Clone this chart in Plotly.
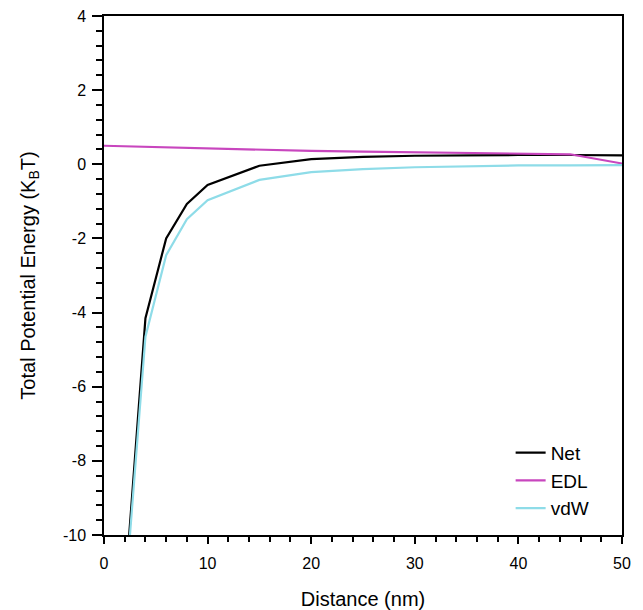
import plotly.graph_objects as go

# Data
distance = [2, 4, 6, 8, 10, 15, 20, 25, 30, 35, 40, 45, 50]
net = [-11.6, -4.15, -2.0, -1.07, -0.56, -0.04, 0.14, 0.20, 0.23, 0.25, 0.25, 0.25, 0.24]
vdw = [-11.8, -4.65, -2.45, -1.48, -0.97, -0.42, -0.21, -0.13, -0.08, -0.05, -0.03, -0.03, -0.02]
edl_x = [0, 5, 10, 15, 20, 25, 30, 35, 40, 45, 50]
edl = [0.50, 0.46, 0.42, 0.39, 0.36, 0.34, 0.32, 0.30, 0.28, 0.27, 0.02]

y_ticks = [-10, -8, -6, -4, -2, 0, 2, 4]
y_ticktext = ["-10", "-8", "-6", "-4", "-2", "0", "2", "4"]
x_ticks = [0, 10, 20, 30, 40, 50]

fig = go.Figure()
fig.add_trace(go.Scatter(x=distance, y=net, mode="lines", name="Net",
                         line=dict(color="#000000", width=2.2)))
fig.add_trace(go.Scatter(x=edl_x, y=edl, mode="lines", name="EDL",
                         line=dict(color="#C846BE", width=2.2)))
fig.add_trace(go.Scatter(x=distance, y=vdw, mode="lines", name="vdW",
                         line=dict(color="#8EDCE8", width=2.2)))

axis_common = dict(showline=True, linecolor="black", linewidth=1.5, mirror=True,
                   showgrid=False, zeroline=False, ticks="outside", tickcolor="black",
                   tickwidth=1.5, tickfont=dict(size=16, color="black"), automargin=False)

fig.update_xaxes(range=[0, 50], tickmode="array", tickvals=x_ticks, ticklen=7,
                 ticklabelstandoff=6,
                 minor=dict(dtick=2, tick0=0, ticks="outside", ticklen=5, tickcolor="black", tickwidth=1.5),
                 title=dict(text="Distance (nm)", font=dict(size=20, color="black"), standoff=22),
                 **axis_common)
fig.update_yaxes(range=[-10, 4], tickmode="array", tickvals=y_ticks, ticktext=y_ticktext, ticklen=10,
                 ticklabelstandoff=3,
                 minor=dict(dtick=0.4, tick0=0, ticks="outside", ticklen=6, tickcolor="black", tickwidth=1.5),
                 title=dict(text="Total Potential Energy (K<sub>B</sub>T)", font=dict(size=20, color="black"), standoff=22),
                 **axis_common)

fig.update_layout(
    width=643, height=610,
    margin=dict(l=104, r=21, t=16, b=75),
    paper_bgcolor="white", plot_bgcolor="white",
    font=dict(family="Liberation Sans, Arial, sans-serif", color="black"),
    showlegend=True,
    legend=dict(x=0.785, y=0.195, xanchor="left", yanchor="top",
                bgcolor="rgba(0,0,0,0)", font=dict(size=19, color="black"),
                tracegroupgap=0),
)

fig.write_html("out.html")
